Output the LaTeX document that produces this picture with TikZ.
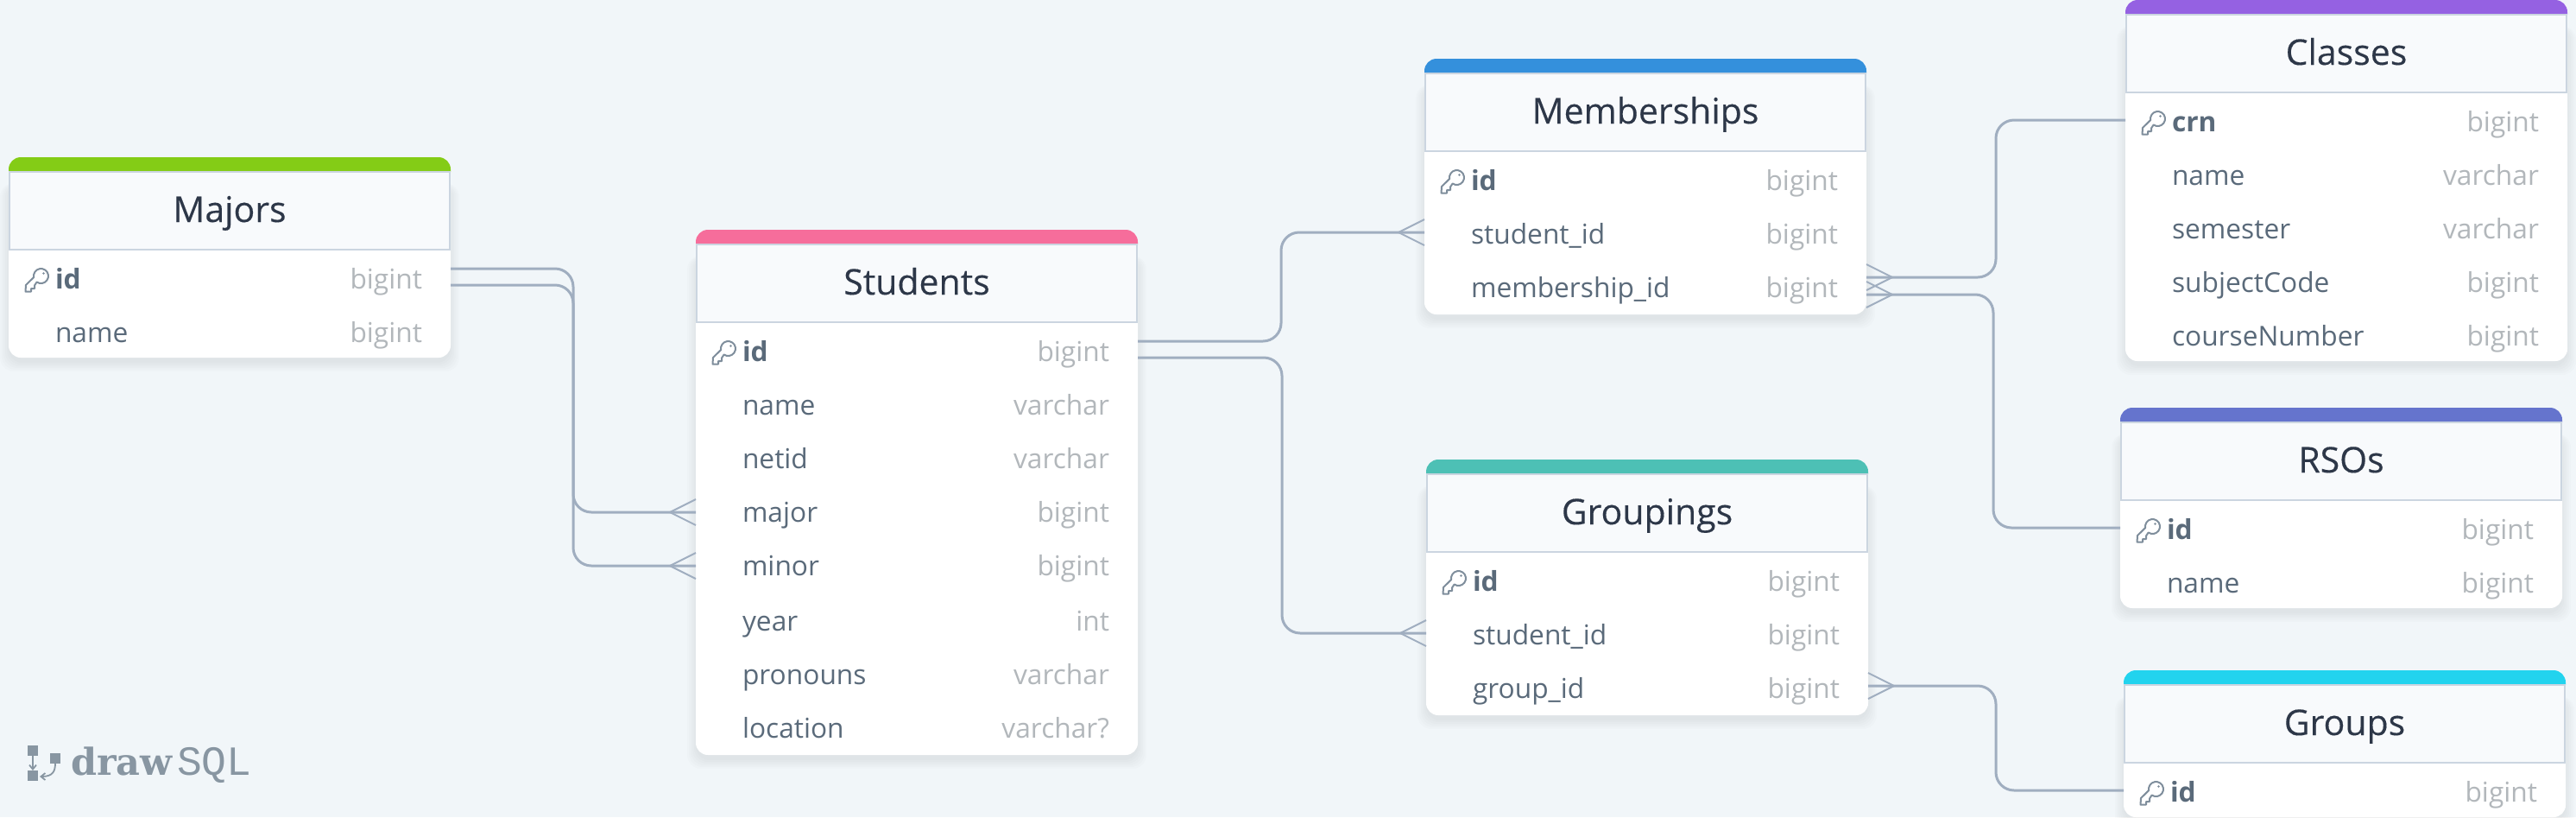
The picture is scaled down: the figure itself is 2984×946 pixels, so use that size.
\documentclass[tikz,border=0pt]{standalone}
\usepackage{fontspec}
\setmainfont{Open Sans}
\newfontfamily\titlefont[FakeBold=0.25]{Open Sans}
\newfontfamily\logofont{Liberation Mono}
\newfontfamily\logoslab{DejaVu Serif}
\usetikzlibrary{arrows.meta,calc}
\definecolor{bgc}{HTML}{F1F6F9}
\definecolor{titlec}{HTML}{2D3748}
\definecolor{namec}{HTML}{5A6A7A}
\definecolor{typec}{HTML}{B2B7BB}
\definecolor{edgec}{HTML}{CBD5E0}
\definecolor{headc}{HTML}{F8FAFC}
\definecolor{linec}{HTML}{A0AEC0}
\definecolor{keyc}{HTML}{7F8E9C}
\definecolor{logoc}{HTML}{8896A2}
\definecolor{cmajors}{HTML}{84CC16}
\definecolor{cstudents}{HTML}{F66D9B}
\definecolor{cmember}{HTML}{3490DC}
\definecolor{cgroupings}{HTML}{4DC0B5}
\definecolor{cclasses}{HTML}{9561E2}
\definecolor{crsos}{HTML}{6574CD}
\definecolor{cgroups}{HTML}{22D3EE}
\tikzset{
  x=1pt,y=1pt,
  tablebody/.style={anchor=north west,minimum width=512pt,inner sep=0pt,outer sep=0pt,rounded corners=14pt,fill=white},
  tablehead/.style={draw=edgec,line width=2pt,fill=headc,minimum width=510pt,minimum height=90pt,inner sep=0pt,outer sep=0pt,text=titlec,text height=36pt,text depth=10pt,font=\titlefont\fontsize{41}{50}\selectfont},
  rowbox/.style={minimum width=512pt,minimum height=62pt,inner sep=0pt,outer sep=0pt},
  fieldname/.style={anchor=base west,inner sep=0pt,outer sep=0pt,text=namec,font=\fontsize{31.7}{38}\selectfont},
  keyname/.style={fieldname,font=\fontsize{31.7}{38}\selectfont\bfseries},
  fieldtype/.style={anchor=base east,inner sep=0pt,outer sep=0pt,text=typec,font=\fontsize{31.7}{38}\selectfont},
  conn/.style={draw=linec,line width=3pt,rounded corners=21pt},
  foot/.style={draw=linec,line width=2pt},
  keyline/.style={draw=keyc,line width=2pt,line join=round},
  logolabel/.style={anchor=base west,inner sep=0pt,outer sep=0pt,text=logoc},
  logobox/.style={fill=logoc,minimum size=12pt,inner sep=0pt,outer sep=0pt},
  logoarrow/.style={draw=logoc,line width=1.8pt,-{Straight Barb[length=5pt,width=8pt]}}
}
% id, left, top, height, colour, title
\newcommand{\dbtable}[6]{%
  \foreach \s in {0,2,4,6,8,10}
    \fill[black,opacity=0.012,rounded corners=16pt]
      (#2-\s,-#3-#4-\s-6) rectangle (#2+512+\s,-#3-30);
  \node[tablebody,minimum height=#4pt] (#1) at (#2,-#3) {};
  \fill[#5,rounded corners=14pt] (#2,-#3-17) -- (#2,-#3) -- (#2+512,-#3) -- (#2+512,-#3-17);
  \node[tablehead] (#1-title) at (#2+256,-#3-62) {#6};
}
% table, field, y below table top, text, type
\newcommand{\dbrow}[5]{%
  \node[rowbox] (#1-#2) at ([yshift=-#3pt]#1.north) {};
  \node[fieldname] (#1-#2-name) at ([shift={(54,-11)}]#1-#2.west) {#4};
  \node[fieldtype] (#1-#2-type) at ([shift={(-33,-11)}]#1-#2.east) {#5};
}
\newcommand{\dbkey}[4]{%
  \node[rowbox] (#1-#2) at ([yshift=-#3pt]#1.north) {};
  \node[keyname] (#1-#2-name) at ([shift={(54,-11)}]#1-#2.west) {#2};
  \node[fieldtype] (#1-#2-type) at ([shift={(-33,-11)}]#1-#2.east) {#4};
  \begin{scope}[shift={([xshift=33pt,yshift=-1pt]#1-#2.west)}]
    \draw[keyline] (-0.4,-2.5) arc (235:550:8.5) -- (-13,-6) -- (-13.5,-13.5) -- (-7,-13.5)
      -- (-7,-10) -- (-3,-10) -- (-3,-6.5) -- cycle;
    \fill[keyc] (7.5,7.5) circle (1.4);
  \end{scope}
}
% crow's foot at the edge anchor #1, pointing from the edge by #2 (signed)
\newcommand{\crow}[2]{%
  \draw[foot] ([yshift=15pt]#1) -- ([xshift=#2pt]#1) -- ([yshift=-15pt]#1);
}
\begin{document}
\begin{tikzpicture}
\useasboundingbox (0,0) rectangle (2984,-946);
\clip (0,0) rectangle (2984,-946);
\fill[bgc] (0,0) rectangle (2984,-946);

\dbtable{majors}{10}{182}{232}{cmajors}{Majors}
\dbkey{majors}{id}{141}{bigint}
\dbrow{majors}{name}{203}{name}{bigint}

\dbtable{students}{806}{266}{608}{cstudents}{Students}
\dbkey{students}{id}{141}{bigint}
\dbrow{students}{name}{203}{name}{varchar}
\dbrow{students}{netid}{265}{netid}{varchar}
\dbrow{students}{major}{327}{major}{bigint}
\dbrow{students}{minor}{389}{minor}{bigint}
\dbrow{students}{year}{453}{year}{int}
\dbrow{students}{pronouns}{515}{pronouns}{varchar}
\dbrow{students}{location}{577}{location}{varchar?}

\dbtable{memberships}{1650}{68}{296}{cmember}{Memberships}
\dbkey{memberships}{id}{141}{bigint}
\dbrow{memberships}{student}{203}{student\_id}{bigint}
\dbrow{memberships}{membership}{265}{membership\_id}{bigint}

\dbtable{groupings}{1652}{532}{296}{cgroupings}{Groupings}
\dbkey{groupings}{id}{141}{bigint}
\dbrow{groupings}{student}{203}{student\_id}{bigint}
\dbrow{groupings}{group}{265}{group\_id}{bigint}

\dbtable{classes}{2462}{0}{418}{cclasses}{Classes}
\dbkey{classes}{crn}{141}{bigint}
\dbrow{classes}{name}{203}{name}{varchar}
\dbrow{classes}{semester}{265}{semester}{varchar}
\dbrow{classes}{subject}{327}{subjectCode}{bigint}
\dbrow{classes}{course}{389}{courseNumber}{bigint}

\dbtable{rsos}{2456}{472}{232}{crsos}{RSOs}
\dbkey{rsos}{id}{141}{bigint}
\dbrow{rsos}{name}{203}{name}{bigint}

\dbtable{groups}{2460}{776}{170}{cgroups}{Groups}
\dbkey{groups}{id}{141}{bigint}

% connectors
\coordinate (ma) at ([yshift=12pt]majors-id.east);
\coordinate (mb) at ([yshift=-7pt]majors-id.east);
\draw[conn] (ma) -- (664,0 |- ma) -- (664,0 |- students-major.west) -- (students-major.west);
\draw[conn] (mb) -- (664,0 |- mb) -- (664,0 |- students-minor.west) -- (students-minor.west);
\crow{students-major.west}{-30}
\crow{students-minor.west}{-30}

\coordinate (sa) at ([yshift=12pt]students-id.east);
\coordinate (sb) at ([yshift=-7pt]students-id.east);
\coordinate (me) at ([yshift=2pt]memberships-student.west);
\coordinate (ge) at ([yshift=2pt]groupings-student.west);
\draw[conn] (sa) -- (1484,0 |- sa) -- (1484,0 |- me) -- (me);
\draw[conn] (sb) -- (1485,0 |- sb) -- (1485,0 |- ge) -- (ge);
\crow{me}{-30}
\crow{ge}{-30}

\coordinate (ca) at ([yshift=12pt]memberships-membership.east);
\coordinate (cb) at ([yshift=-8pt]memberships-membership.east);
\coordinate (ce) at ([yshift=2pt]classes-crn.west);
\coordinate (re) at ([yshift=2pt]rsos-id.west);
\draw[conn] (ca) -- (2312,0 |- ca) -- (2312,0 |- ce) -- (ce);
\draw[conn] (cb) -- (2309,0 |- cb) -- (2309,0 |- re) -- (re);
\crow{ca}{30}
\crow{cb}{30}

\coordinate (ga) at ([yshift=3pt]groupings-group.east);
\coordinate (gb) at ([yshift=2pt]groups-id.west);
\draw[conn] (ga) -- (2312,0 |- ga) -- (2312,0 |- gb) -- (gb);
\crow{ga}{30}

% logo
\node[logobox] (lg-a) at (38,-869) {};
\node[logobox] (lg-b) at (38,-898) {};
\node[logobox] (lg-c) at (64,-877.5) {};
\draw[logoarrow] (lg-a.south) -- (lg-b.north);
\draw[logoarrow] (lg-c.south) .. controls (64,-892) and (62,-899) .. (46,-899);
\node[logolabel,font=\logoslab\bfseries\fontsize{43}{50}\selectfont] (lg-draw) at (82,-897) {draw};
\node[logolabel,font=\logofont\fontsize{48}{50}\selectfont] (lg-sql) at (205,-897) {SQL};
\end{tikzpicture}
\end{document}
